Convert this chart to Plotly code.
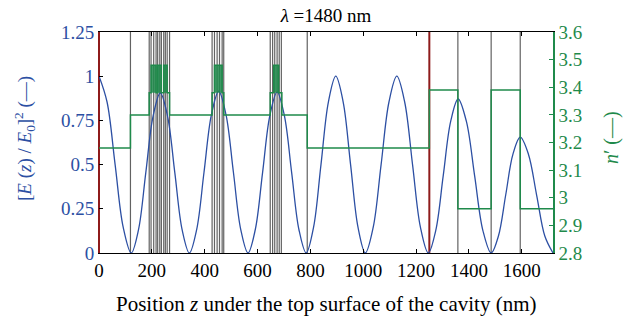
import plotly.graph_objects as go

# ---- data ----
# |E(z)/E0|^2 standing wave (estimated points)
z_field = [0, 30.5, 61, 91.5, 122,
           149.5, 177, 204.5, 232, 259.5, 287, 314.5, 342,
           369.75, 397.5, 425.25, 453, 480.75, 508.5, 536.25, 564,
           591.5, 619, 646.5, 674, 701.5, 729, 756.5, 784,
           812, 840, 868, 896, 924, 952, 980, 1008,
           1037.75, 1067.5, 1097.25, 1127, 1156.75, 1186.5, 1216.25, 1246,
           1274.25, 1302.5, 1330.75, 1359, 1390.25, 1421.5, 1452.75, 1484,
           1511.5, 1539, 1566.5, 1594, 1625, 1656, 1687, 1718]
e_field = [1.0, 0.854, 0.5, 0.146, 0.0,
           0.132, 0.453, 0.773, 0.905, 0.773, 0.453, 0.132, 0.0,
           0.134, 0.458, 0.781, 0.915, 0.781, 0.458, 0.134, 0.0,
           0.133, 0.455, 0.777, 0.91, 0.777, 0.455, 0.133, 0.0,
           0.146, 0.5, 0.854, 1.0, 0.854, 0.5, 0.146, 0.0,
           0.146, 0.5, 0.854, 1.0, 0.854, 0.5, 0.146, 0.0,
           0.127, 0.436, 0.744, 0.871, 0.744, 0.436, 0.127, 0.0,
           0.096, 0.328, 0.559, 0.655, 0.559, 0.328, 0.096, 0.0]

# refractive index profile: layer start positions and n'
layer_start = [0, 119, 190, 197, 216, 222, 236, 245, 258, 267,
               428, 437, 466, 472,
               648, 661, 680, 692,
               788, 1250, 1358, 1484, 1594]
layer_n = [3.18, 3.30, 3.38, 3.48, 3.38, 3.48, 3.38, 3.48, 3.38, 3.30,
           3.38, 3.48, 3.38, 3.30,
           3.38, 3.48, 3.38, 3.30,
           3.18, 3.39, 2.96, 3.39, 2.96]
z_end = 1718

# high-index (quantum well) sub-layers
well_start = [197, 222, 245, 437, 661]
well_end = [216, 236, 258, 466, 680]
well_base = [3.38, 3.38, 3.38, 3.38, 3.38]
well_top = [3.48, 3.48, 3.48, 3.48, 3.48]

# layer interface lines
interfaces = [119, 190, 197, 207, 216, 222, 230, 236, 245, 251, 258, 267,
              428, 437, 447, 456, 466, 472,
              648, 657, 665, 674, 682, 690,
              788, 1358, 1484, 1594]
surface_lines = [0, 1250]

x_ticks = [0, 200, 400, 600, 800, 1000, 1200, 1400, 1600]
y_ticks = [0, 0.25, 0.5, 0.75, 1, 1.25]
y_ticktext = ["0", "0.25", "0.5", "0.75", "1", "1.25"]
n_ticks = [2.8, 2.9, 3.0, 3.1, 3.2, 3.3, 3.4, 3.5, 3.6]
n_ticktext = ["2.8", "2.9", "3", "3.1", "3.2", "3.3", "3.4", "3.5", "3.6"]

BLUE = "#2c4fa3"
GREEN = "#1f8a4b"
RED = "#8e1b1b"
GRAY = "#626262"
FONT = "Liberation Serif"
TICK = 19

fig = go.Figure()

# well fills
fx, fy = [], []
for a, b, lo, hi in zip(well_start, well_end, well_base, well_top):
    fx += [a, a, b, b, a, None]
    fy += [lo, hi, hi, lo, lo, None]
fig.add_trace(go.Scatter(x=fx, y=fy, yaxis="y2", mode="lines", fill="toself",
                         fillcolor="rgba(31,138,75,0.85)", line=dict(width=0),
                         hoverinfo="skip", showlegend=False))

# interface lines
lx, ly = [], []
for z in interfaces:
    lx += [z, z, None]
    ly += [0, 1.25, None]
fig.add_trace(go.Scatter(x=lx, y=ly, mode="lines",
                         line=dict(color=GRAY, width=1.2), showlegend=False))

# surface lines (red)
rx, ry = [], []
for z in surface_lines:
    rx += [z, z, None]
    ry += [0, 1.25, None]
fig.add_trace(go.Scatter(x=rx, y=ry, mode="lines",
                         line=dict(color=RED, width=2), showlegend=False))

# index profile
fig.add_trace(go.Scatter(x=layer_start + [z_end], y=layer_n + [layer_n[-1]],
                         yaxis="y2", mode="lines", line_shape="hv",
                         line=dict(color=GREEN, width=1.5), showlegend=False))

# field
fig.add_trace(go.Scatter(x=z_field, y=e_field, mode="lines", line_shape="spline",
                         line=dict(color=BLUE, width=1.3, smoothing=1.0),
                         showlegend=False))

fig.update_layout(
    width=633, height=321,
    margin=dict(l=99, r=80, t=32, b=68),
    paper_bgcolor="white", plot_bgcolor="white",
    font=dict(family=FONT, size=TICK, color="black"),
    showlegend=False,
    title=dict(text="<i>λ</i> =1480 nm", x=0.5, xref="paper", y=1 - 15 / 321,
               yanchor="middle", xanchor="center",
               font=dict(family=FONT, size=19, color="black")),
    xaxis=dict(range=[0, z_end], tickvals=x_ticks, ticks="inside", ticklen=4,
               tickcolor="black", showline=True, linecolor="black", linewidth=1,
               mirror="ticks", showgrid=False, zeroline=False,
               tickfont=dict(family=FONT, size=TICK, color="black")),
    yaxis=dict(range=[0, 1.25], tickvals=y_ticks, ticktext=y_ticktext,
               ticks="inside", ticklen=4, tickcolor="black", showline=True,
               linecolor=RED, linewidth=1, showgrid=False, zeroline=False,
               tickfont=dict(family=FONT, size=TICK, color=BLUE)),
    yaxis2=dict(range=[2.8, 3.6], tickvals=n_ticks, ticktext=n_ticktext,
                overlaying="y", side="right", ticks="inside", ticklen=4,
                tickcolor=GREEN, showline=True, linecolor=GREEN, linewidth=1.5,
                showgrid=False, zeroline=False,
                tickfont=dict(family=FONT, size=TICK, color=GREEN)),
    annotations=[
        dict(text="Position <i>z</i> under the top surface of the cavity (nm)",
             xref="paper", yref="paper", x=0.5, y=(253 - 304) / 221,
             xanchor="center", yanchor="middle", showarrow=False,
             font=dict(family=FONT, size=21, color="black")),
        dict(text="[<i>E</i> (<i>z</i>) / <i>E</i><sub>0</sub>]<sup>2</sup> (—)",
             xref="paper", yref="paper", x=(24 - 99) / 454, y=(253 - 139) / 221,
             xanchor="center", yanchor="middle", textangle=-90, showarrow=False,
             font=dict(family=FONT, size=19, color=BLUE)),
        dict(text="<i>n</i>′ (—)",
             xref="paper", yref="paper", x=(611 - 99) / 454, y=(253 - 138) / 221,
             xanchor="center", yanchor="middle", textangle=-90, showarrow=False,
             font=dict(family=FONT, size=20, color=GREEN)),
    ],
)

fig.write_html("out.html")
